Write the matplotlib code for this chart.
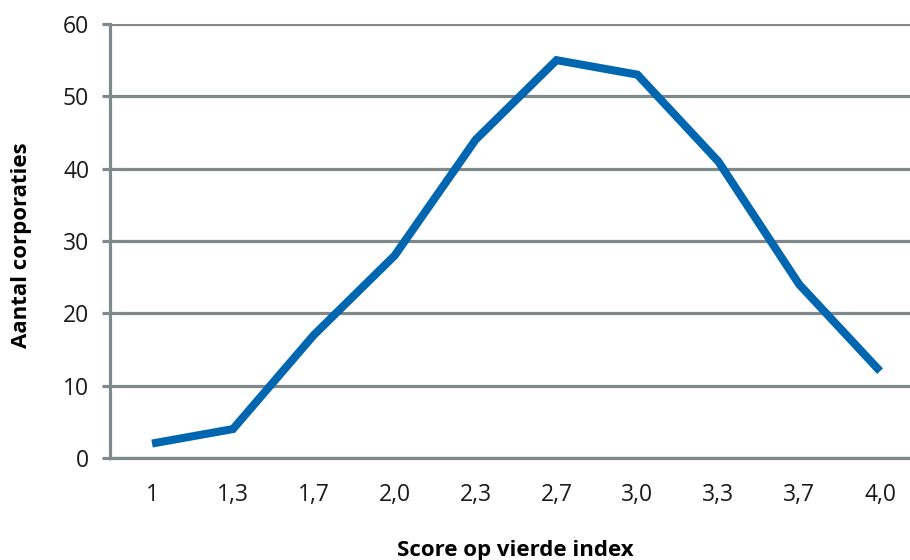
import matplotlib
matplotlib.use("Agg")
import matplotlib.pyplot as plt

# Verdeling van corporaties over de score op de vierde index
scores = ["1", "1,3", "1,7", "2,0", "2,3", "2,7", "3,0", "3,3", "3,7", "4,0"]
aantal = [2, 4, 17, 28, 44, 55, 53, 41, 24, 12]
y_ticks = [0, 10, 20, 30, 40, 50, 60]

GRID = "#7f8989"
BLUE = "#0066b0"

plt.rcParams["font.family"] = ["Open Sans", "DejaVu Sans"]

fig = plt.figure(figsize=(9.10, 5.60), dpi=100)
ax = fig.add_axes([110 / 910, 102 / 560, 800 / 910, 434 / 560])

x = range(len(scores))
ax.plot(x, aantal, color=BLUE, linewidth=5.8, solid_joinstyle="miter",
        solid_capstyle="butt", zorder=3)

ax.set_xlim(-0.52, 9.37)
ax.set_ylim(0, 60)
ax.set_yticks(y_ticks)
ax.set_xticks(list(x))
ax.set_xticklabels(scores)

ax.yaxis.grid(True, color=GRID, linewidth=2.3)
ax.set_axisbelow(True)
for side in ["top", "right"]:
    ax.spines[side].set_visible(False)
ax.spines["left"].set_color(GRID)
ax.spines["left"].set_linewidth(2.3)
ax.spines["bottom"].set_color(GRID)
ax.spines["bottom"].set_linewidth(2.3)

ax.tick_params(axis="y", length=6, width=2.3, color=GRID, pad=9,
               labelsize=16.5, labelcolor="#1a1a1a")
ax.tick_params(axis="x", length=0, pad=18, labelsize=16.5,
               labelcolor="#1a1a1a")

ax.set_xlabel("Score op vierde index", fontsize=16, fontweight="bold")
ax.xaxis.set_label_coords(405 / 800, -82 / 434)
ax.set_ylabel("Aantal corporaties", fontsize=16, fontweight="bold")
ax.yaxis.set_label_coords(-78 / 800, 0.49)

fig.savefig("out.png", dpi=100)
